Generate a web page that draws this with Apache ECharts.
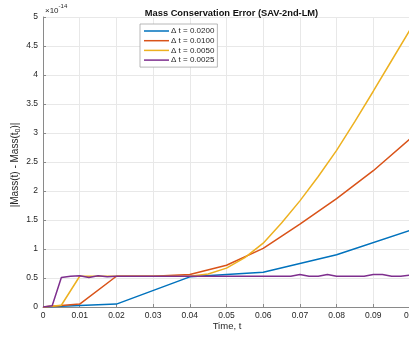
<!DOCTYPE html>
<html>
<head>
<meta charset="utf-8">
<script src="https://cdn.jsdelivr.net/npm/echarts@6/dist/echarts.min.js"></script>
<style>
  html, body { margin: 0; padding: 0; background: #fff; }
  #chart { width: 409px; height: 337px; }
</style>
</head>
<body>
<div id="chart"></div>
<script>
// Mass conservation error |Mass(t) - Mass(t0)| (in units of 1e-14) for four time steps
const tDt0200 = [0, 0.02, 0.04, 0.06, 0.08, 0.1];
const errDt0200 = [0, 0.05, 0.52, 0.6, 0.9, 1.32];

const tDt0100 = [0, 0.01, 0.02, 0.03, 0.04, 0.05, 0.06, 0.07, 0.08, 0.09, 0.1];
const errDt0100 = [0, 0.05, 0.53, 0.53, 0.56, 0.72, 1.01, 1.43, 1.87, 2.35, 2.9];

const tDt0050 = [0, 0.005, 0.01, 0.015, 0.02, 0.025, 0.03, 0.035, 0.04, 0.045, 0.05,
                 0.055, 0.06, 0.065, 0.07, 0.075, 0.08, 0.085, 0.09, 0.095, 0.1];
const errDt0050 = [0, 0.03, 0.53, 0.53, 0.53, 0.53, 0.53, 0.53, 0.53, 0.57, 0.67,
                   0.85, 1.1, 1.45, 1.83, 2.25, 2.7, 3.2, 3.72, 4.25, 4.78];

const tDt0025 = [0, 0.0025, 0.005, 0.0075, 0.01, 0.0125, 0.015, 0.0175, 0.02, 0.0225,
                 0.025, 0.0275, 0.03, 0.0325, 0.035, 0.0375, 0.04, 0.0425, 0.045, 0.0475,
                 0.05, 0.0525, 0.055, 0.0575, 0.06, 0.0625, 0.065, 0.0675, 0.07, 0.0725,
                 0.075, 0.0775, 0.08, 0.0825, 0.085, 0.0875, 0.09, 0.0925, 0.095, 0.0975, 0.1];
const errDt0025 = [0, 0.02, 0.51, 0.53, 0.54, 0.51, 0.54, 0.52, 0.53, 0.53,
                   0.53, 0.53, 0.53, 0.53, 0.53, 0.53, 0.53, 0.53, 0.53, 0.53,
                   0.53, 0.53, 0.53, 0.53, 0.53, 0.53, 0.53, 0.53, 0.56, 0.53,
                   0.53, 0.56, 0.53, 0.53, 0.53, 0.53, 0.56, 0.56, 0.53, 0.53, 0.55];

const seriesNames = ['\u0394 t = 0.0200', '\u0394 t = 0.0100', '\u0394 t = 0.0050', '\u0394 t = 0.0025'];
const seriesColors = ['#0072BD', '#D95319', '#EDB120', '#7E2F8E'];

const xTicks = { min: 0, max: 0.1, step: 0.01 };
const yTicks = { min: 0, max: 5, step: 0.5 };

function pairs(ts, vs) { return ts.map((t, i) => [t, vs[i]]); }

const allT = [tDt0200, tDt0100, tDt0050, tDt0025];
const allErr = [errDt0200, errDt0100, errDt0050, errDt0025];

const FONT = '"Liberation Sans", Arial, Helvetica, sans-serif';
const AXIS_GRAY = '#8a8a8a';
const TEXT = '#262626';

// thin horizontal bar used as the legend line sample
const LEGEND_LINE = 'path://M0,0 H25 V1.5 H0 Z';

const chart = echarts.init(document.getElementById('chart'), null, { renderer: 'canvas' });

chart.setOption({
  animation: false,
  backgroundColor: '#ffffff',
  textStyle: { fontFamily: FONT },
  title: {
    text: 'Mass Conservation Error (SAV-2nd-LM)',
    left: 226.5,
    textAlign: 'center',
    top: 4,
    textStyle: { fontFamily: FONT, fontSize: 9.3, fontWeight: 'bold', color: '#111' }
  },
  grid: { left: 43, top: 17, width: 367, height: 290, containLabel: false, outerBoundsMode: 'none' },
  legend: {
    orient: 'vertical',
    left: 140,
    top: 24,
    itemWidth: 25,
    itemHeight: 8,
    itemGap: 1.7,
    padding: [3, 3, 3, 4],
    backgroundColor: '#ffffff',
    borderColor: '#a6a6a6',
    borderWidth: 0.8,
    icon: LEGEND_LINE,
    textStyle: { fontFamily: FONT, fontSize: 8, color: TEXT, padding: [0, 0, 0, -3] },
    data: seriesNames
  },
  xAxis: {
    type: 'value',
    min: xTicks.min,
    max: xTicks.max,
    interval: xTicks.step,
    name: '',
    axisLine: { lineStyle: { color: AXIS_GRAY, width: 1 } },
    axisTick: { inside: true, length: 3, lineStyle: { color: AXIS_GRAY } },
    axisLabel: {
      fontFamily: FONT, fontSize: 8.5, color: TEXT, margin: 4,
      showMaxLabel: true, hideOverlap: false,
      formatter: v => (v === 0 ? '0' : (Math.abs(v - 0.1) < 1e-9 ? '0.1' : v.toFixed(2)))
    },
    splitLine: { show: true, lineStyle: { color: '#e8e8e8', width: 1 } }
  },
  yAxis: {
    type: 'value',
    min: yTicks.min,
    max: yTicks.max,
    interval: yTicks.step,
    axisLine: { show: true, lineStyle: { color: AXIS_GRAY, width: 1 } },
    axisTick: { show: true, inside: true, length: 3, lineStyle: { color: AXIS_GRAY } },
    axisLabel: {
      fontFamily: FONT, fontSize: 8.5, color: TEXT, margin: 5,
      formatter: v => String(Math.round(v * 10) / 10)
    },
    splitLine: { show: true, lineStyle: { color: '#e8e8e8', width: 1 } }
  },
  graphic: [
    {
      type: 'text',
      left: 45,
      top: 3,
      style: {
        text: '{a|\u00d710}{b|-14}',
        rich: {
          a: { fontFamily: FONT, fontSize: 8, fill: TEXT, verticalAlign: 'bottom', lineHeight: 12 },
          b: { fontFamily: FONT, fontSize: 6, fill: TEXT, verticalAlign: 'top', lineHeight: 12, padding: [0, 0, 6, 0] }
        }
      }
    },
    {
      type: 'text',
      x: 15.5,
      y: 165,
      rotation: Math.PI / 2,
      style: {
        text: '|Mass(t) - Mass(t{s|0})|',
        align: 'center',
        verticalAlign: 'middle',
        fontFamily: FONT,
        fontSize: 10,
        fill: TEXT,
        rich: {
          s: { fontFamily: FONT, fontSize: 7, fill: TEXT, padding: [6, 0, 0, 0] }
        }
      }
    },
    {
      type: 'text',
      x: 227,
      y: 326,
      style: {
        text: 'Time, t',
        align: 'center',
        verticalAlign: 'middle',
        fontFamily: FONT,
        fontSize: 9.5,
        fill: TEXT
      }
    }
  ],
  series: seriesNames.map((name, i) => ({
    name: name,
    type: 'line',
    data: pairs(allT[i], allErr[i]),
    symbol: 'none',
    showSymbol: false,
    smooth: false,
    clip: true,
    color: seriesColors[i],
    lineStyle: { color: seriesColors[i], width: 1.5 },
    z: 2 + i
  }))
});
</script>
</body>
</html>
